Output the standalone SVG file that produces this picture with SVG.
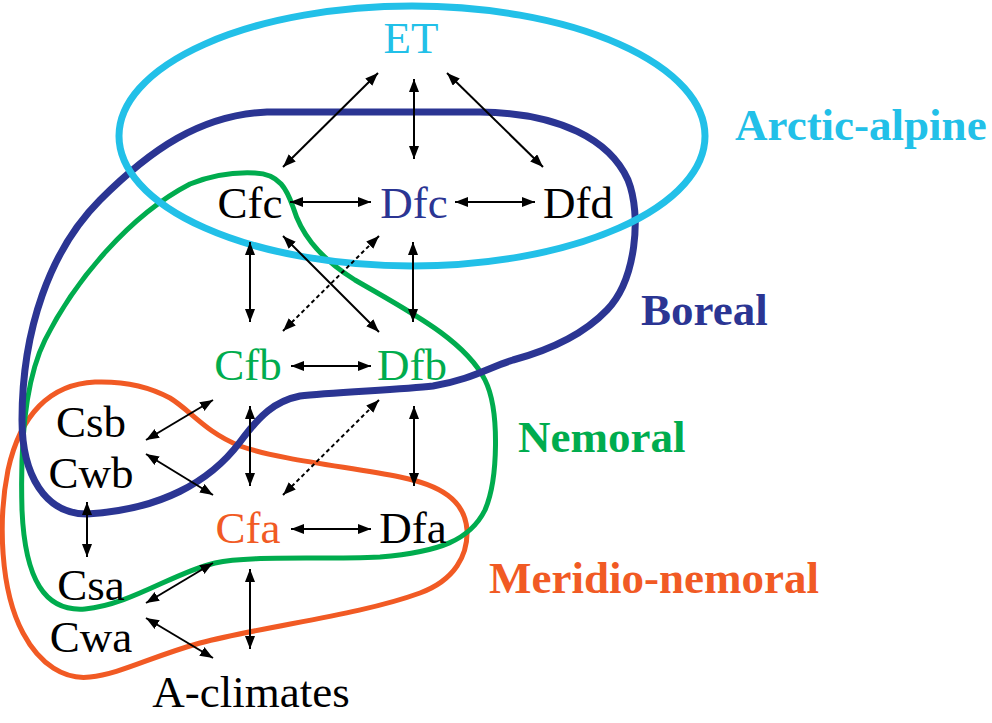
<svg xmlns="http://www.w3.org/2000/svg" width="992" height="723" viewBox="0 0 992 723">
<style>
.n{font-size:45px;text-anchor:middle;fill:#000}
.lb{font-size:45px;font-weight:bold}
.a{stroke:#000;stroke-width:2;fill:none;marker-start:url(#ah);marker-end:url(#ah)}
.d{stroke-dasharray:4 3}
.zone{fill:none}
</style>
<defs>
<marker id="ah" markerUnits="userSpaceOnUse" markerWidth="14" markerHeight="12" refX="13" refY="5" orient="auto-start-reverse">
<path d="M0,0 L13,5 L0,10 z" fill="#000"/>
</marker>
</defs>
<rect width="992" height="723" fill="#fff"/>
<g id="zones">
<path id="meridio-nemoral" class="zone" stroke="#F15A24" stroke-width="5" d="M 95 382 C 50 384, 20 415, 8 470 C -2 520, 0 590, 23 633 C 40 665, 65 680, 90 677 C 120 674, 150 657, 200 643 C 270 625, 360 615, 420 593 C 455 580, 468 555, 467 530 C 465 500, 440 485, 400 477 C 350 467, 280 460, 240 446 C 205 432, 190 410, 170 398 C 150 387, 125 381, 95 382 Z"/>
<path id="nemoral" class="zone" stroke="#00AC4E" stroke-width="5" d="M 255 173 C 280 174, 287 190, 293 207 C 300 230, 315 255, 355 280 C 410 312, 465 340, 485 380 C 500 410, 498 480, 485 510 C 470 540, 440 552, 380 557 C 320 560, 250 555, 215 563 C 175 572, 130 605, 85 609 C 45 612, 25 580, 22 510 C 20 440, 25 380, 45 340 C 75 280, 130 215, 190 184 C 215 174, 235 172, 255 173 Z"/>
<path id="boreal" class="zone" stroke="#2B3593" stroke-width="7" d="M 267 112 L 480 112 C 560 113, 610 140, 628 180 C 642 215, 636 280, 607 310 C 585 333, 550 350, 513 360 C 490 367, 470 380, 433 386 C 400 390, 330 392, 300 396 C 275 401, 260 415, 240 442 C 210 482, 160 510, 87 514 C 45 514, 22 475, 22 420 C 22 330, 50 250, 100 200 C 150 150, 200 115, 267 112 Z"/>
<ellipse id="arctic-alpine" class="zone" stroke="#22C0E8" stroke-width="7" cx="412" cy="136" rx="293" ry="130"/>
</g>
<g id="connectors">
<line class="a" x1="378" y1="73" x2="283" y2="167"/>
<line class="a" x1="414" y1="79" x2="414" y2="159"/>
<line class="a" x1="447" y1="73" x2="543" y2="167"/>
<line class="a" x1="290" y1="202" x2="371" y2="202"/>
<line class="a" x1="455" y1="202" x2="535" y2="202"/>
<line class="a" x1="250" y1="242" x2="250" y2="322"/>
<line class="a" x1="283" y1="236" x2="379" y2="332"/>
<line class="a d" x1="379" y1="236" x2="283" y2="331"/>
<line class="a" x1="413" y1="242" x2="413" y2="322"/>
<line class="a" x1="291" y1="366" x2="371" y2="366"/>
<line class="a" x1="146" y1="440" x2="213" y2="400"/>
<line class="a" x1="146" y1="454" x2="213" y2="495"/>
<line class="a" x1="250" y1="406" x2="250" y2="486"/>
<line class="a d" x1="379" y1="400" x2="283" y2="495"/>
<line class="a" x1="414" y1="406" x2="414" y2="486"/>
<line class="a" x1="87" y1="502" x2="87" y2="557"/>
<line class="a" x1="291" y1="529" x2="371" y2="529"/>
<line class="a" x1="213" y1="563" x2="146" y2="603"/>
<line class="a" x1="250" y1="569" x2="250" y2="649"/>
<line class="a" x1="146" y1="618" x2="213" y2="658"/>
</g>
<g font-family="Liberation Serif, Tinos, Times New Roman, DejaVu Serif, serif">
<g id="node-ET"><text class="n" x="411" y="53" style="fill:#22C0E8">ET</text></g>
<g id="node-Cfc"><text class="n" x="250" y="218">Cfc</text></g>
<g id="node-Dfc"><text class="n" x="414" y="218" style="fill:#2B3593">Dfc</text></g>
<g id="node-Dfd"><text class="n" x="578" y="218">Dfd</text></g>
<g id="node-Cfb"><text class="n" x="248" y="380" style="fill:#00AC4E">Cfb</text></g>
<g id="node-Dfb"><text class="n" x="412" y="380" style="fill:#00AC4E">Dfb</text></g>
<g id="node-Csb"><text class="n" x="91" y="437">Csb</text></g>
<g id="node-Cwb"><text class="n" x="91" y="488">Cwb</text></g>
<g id="node-Cfa"><text class="n" x="248" y="543" style="fill:#F15A24">Cfa</text></g>
<g id="node-Dfa"><text class="n" x="413" y="543">Dfa</text></g>
<g id="node-Csa"><text class="n" x="91" y="600">Csa</text></g>
<g id="node-Cwa"><text class="n" x="91" y="652">Cwa</text></g>
<g id="node-A"><text class="n" x="251" y="707">A-climates</text></g>
<g id="labels">
<text class="lb" x="735" y="140" fill="#22C0E8">Arctic-alpine</text>
<text class="lb" x="641" y="325" fill="#2B3593">Boreal</text>
<text class="lb" x="518" y="452" fill="#00AC4E">Nemoral</text>
<text class="lb" x="489" y="593" fill="#F15A24">Meridio-nemoral</text>
</g>
</g>
</svg>
